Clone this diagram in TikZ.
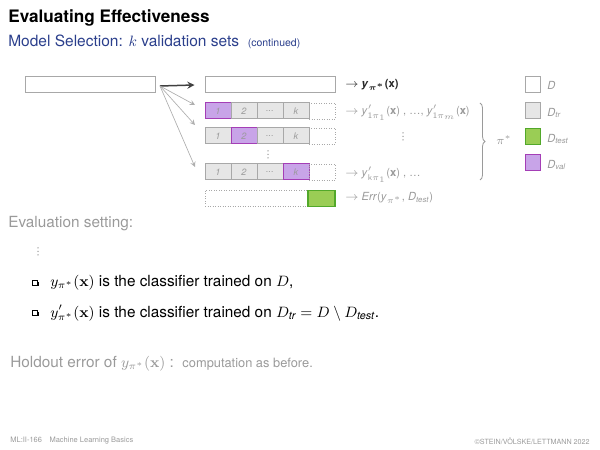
\documentclass[tikz,border=0pt]{standalone}
\usepackage{amsmath,amssymb}
\usepackage{bm}
\usepackage[no-math]{fontspec}
\setmainfont{TeX Gyre Heros}
\usetikzlibrary{decorations.pathreplacing}

\definecolor{cellgray}{HTML}{E6E6E6}
\definecolor{cellline}{HTML}{A8A8A8}
\definecolor{valfill}{HTML}{C8A4E8}
\definecolor{valline}{HTML}{A43EB6}
\definecolor{testfill}{HTML}{9ACD55}
\definecolor{testline}{HTML}{52A82A}
\definecolor{txtgray}{HTML}{9A9A9A}
\definecolor{subblue}{HTML}{2B3F8C}

\tikzset{
  plainbox/.style={draw=cellline, fill=white, line width=0.6pt, inner sep=0pt, minimum height=9.6pt},
  trcell/.style={draw=cellline, fill=cellgray, line width=0.6pt, inner sep=0pt, minimum width=15.6pt, minimum height=9.6pt, text=txtgray, font=\fontsize{5.5}{6}\selectfont\itshape},
  valcell/.style={trcell, draw=valline, fill=valfill},
  restcell/.style={draw=cellline, densely dotted, line width=0.5pt, inner sep=0pt, minimum height=9.6pt},
  testcell/.style={draw=testline, fill=testfill, line width=0.7pt, inner sep=0pt, minimum width=16.2pt, minimum height=9.6pt},
  legbox/.style={draw=cellline, line width=0.6pt, inner sep=0pt, minimum width=9pt, minimum height=9.6pt},
  lbl/.style={anchor=west, inner sep=0pt, text=txtgray, font=\fontsize{6.7}{7}\selectfont},
  bodytxt/.style={anchor=west, inner sep=0pt, font=\fontsize{9.2}{11}\selectfont}
}
\newcommand{\dotcol}[2]{% three small vertical dots, top one at (#1,#2)
  \foreach \d in {0,1,2} \fill[txtgray] (#1,#2+3.5*\d) circle (0.45pt);}

\begin{document}
\begin{tikzpicture}[x=0.6pt,y=-0.6pt]
  \useasboundingbox (0,0) rectangle (600,450);

  % Title and subtitle
  \node[anchor=west, inner sep=0pt, font=\fontsize{10.3}{12}\selectfont\bfseries] (title) at (8,18) {Evaluating Effectiveness};
  \node[anchor=west, inner sep=0pt, text=subblue, font=\fontsize{9.3}{11}\selectfont] (subtitle) at (8,42) {Model Selection: $k$ validation sets~ {\fontsize{6.3}{7}\selectfont(continued)}};

  % Whole data set D and its copy
  \node[plainbox, minimum width=78pt] (dset) at (90,85) {};
  \node[plainbox, minimum width=78pt] (dfull) at (270,85) {};

  % Rows of k folds (training cells, validation cell, hidden test part)
  \foreach \r/\yy/\v in {1/111/1, 2/136/2, 3/172/4}{
    \foreach \c/\txt in {1/1, 2/2, 3/{\raisebox{-1.2pt}{...}}, 4/k}{
      \ifnum\c=\v
        \node[valcell] (c\r\c) at (205+26*\c-13,\yy) {\txt};
      \else
        \node[trcell] (c\r\c) at (205+26*\c-13,\yy) {\txt};
      \fi
    }
    \node[restcell, minimum width=15.6pt] (rest\r) at (322,\yy) {};
  }
  \dotcol{268}{151}

  % Test row
  \node[restcell, minimum width=61.8pt] (testrest) at (256.5,198.5) {};
  \node[testcell] (dtest) at (321.5,198.5) {};

  % Arrows from D
  \coordinate (split) at (160,86);
  \coordinate (e1) at (195,105);
  \coordinate (e2) at (195,125);
  \coordinate (e3) at (195,167);
  \draw[-stealth, line width=0.9pt, black!75] (split) -- ([xshift=-6pt]dfull.west);
  \foreach \e in {e1,e2,e3}
    \draw[-stealth, line width=0.4pt, txtgray!80] (split) -- (\e);

  % Result labels
  \node[lbl, text=black!85] (ystar) at (345,85) {$\rightarrow$ \textbf{\textit{y}$_{\boldsymbol{\pi}^{\bm{*}}}$(x)}};
  \node[lbl] (yone) at (345,113) {$\rightarrow$ \textit{y}$'_{\mathsf{1}\pi_1}$(\textbf{x}) , \dots , \textit{y}$'_{\mathsf{1}\pi_m}$(\textbf{x})};
  \dotcol{403}{133}
  \node[lbl] (yk) at (345,175) {$\rightarrow$ \textit{y}$'_{\mathsf{k}\pi_1}$(\textbf{x}) , \dots};
  \node[lbl] (err) at (345,198) {$\rightarrow$ \textit{Err}(\textit{y}$_{\pi^*}$, \textit{D$_{\textit{test}}$})};

  % Brace over the validation results
  \draw[txtgray, line width=0.5pt, decorate, decoration={brace, amplitude=3pt}] (480,103) -- (480,180);
  \node[lbl] (pistar) at (496,140) {$\pi^*$};

  % Legend
  \node[legbox, fill=white] (legd) at (532.5,85) {};
  \node[legbox, fill=cellgray] (legtr) at (532.5,111) {};
  \node[legbox, draw=testline, fill=testfill] (legtest) at (532.5,137) {};
  \node[legbox, draw=valline, fill=valfill] (legval) at (532.5,163) {};
  \node[lbl, font=\fontsize{6.7}{7}\selectfont\itshape] at (547,85) {D};
  \node[lbl, font=\fontsize{6.7}{7}\selectfont\itshape] at (547,113) {D$_{\text{\itshape tr}}$};
  \node[lbl, font=\fontsize{6.7}{7}\selectfont\itshape] at (547,139) {D$_{\text{\itshape test}}$};
  \node[lbl, font=\fontsize{6.7}{7}\selectfont\itshape] at (547,165) {D$_{\text{\itshape val}}$};

  % Evaluation setting text
  \node[bodytxt, text=txtgray] (evalset) at (8,224) {Evaluation setting:};
  \dotcol{38}{248}
  \foreach \yy in {284,314}{
    \fill[black] (34,\yy-2) rectangle (38.5,\yy+2.5);
    \filldraw[fill=white, draw=black, line width=0.4pt] (32.5,\yy-3.5) rectangle (37,\yy+1);
  }
  \node[bodytxt] (item1) at (50,283) {$y_{\pi^*}(\mathbf{x})$ is the classifier trained on $D$,};
  \node[bodytxt] (item2) at (50,313) {$y'_{\pi^*}(\mathbf{x})$ is the classifier trained on $D_{\textit{tr}} = D \setminus D_{\textit{test}}$.};
  \node[bodytxt, text=txtgray] (holdout) at (10,364) {Holdout error of $y_{\pi^*}(\mathbf{x})$ :\ \ {\fontsize{7.7}{9}\selectfont computation as before.}};

  % Footer
  \node[anchor=west, inner sep=0pt, text=txtgray, font=\fontsize{4.5}{5}\selectfont] (foot) at (10,441) {ML:II-166\quad Machine Learning Basics};
  \node[anchor=east, inner sep=0pt, text=txtgray, font=\fontsize{4.3}{5}\selectfont] (copy) at (590,441) {©STEIN/VÖLSKE/LETTMANN 2022};
\end{tikzpicture}
\end{document}
